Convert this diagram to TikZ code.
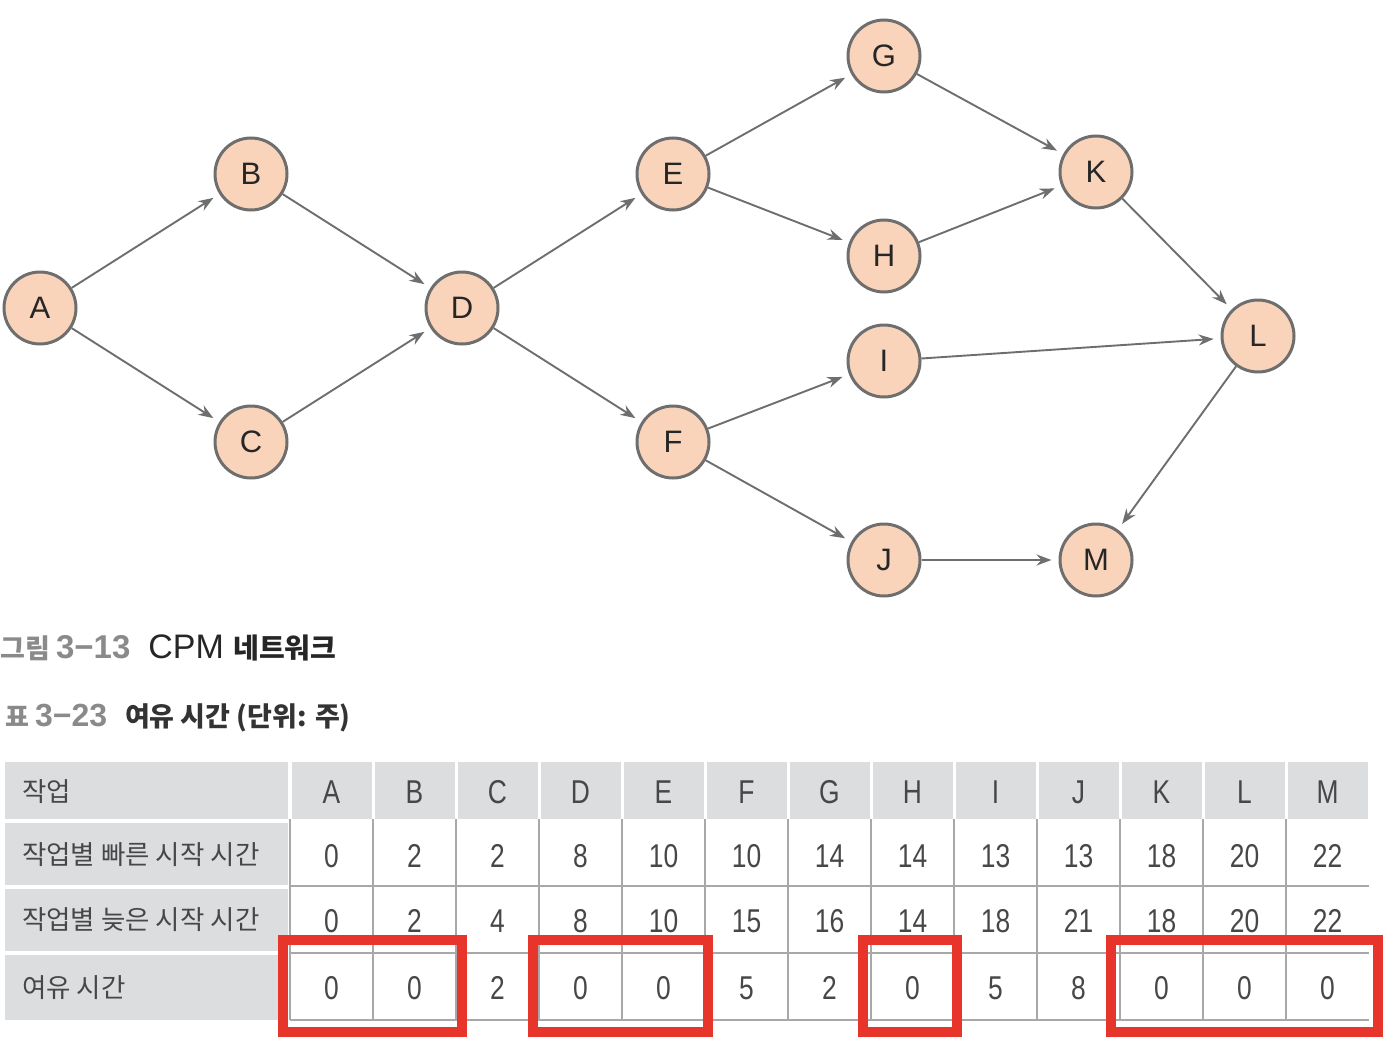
\documentclass[tikz,border=0pt]{standalone}
\usepackage{fontspec}
\setmainfont{Liberation Sans}
\newfontfamily\krfont{Noto Sans CJK KR}
\newfontfamily\numfont{Liberation Sans}[FakeStretch=0.8]
\usetikzlibrary{arrows.meta}
\definecolor{peach}{HTML}{F9D4BB}
\definecolor{ringgray}{HTML}{6E6E6E}
\definecolor{headgray}{HTML}{DCDDDF}
\definecolor{rulegray}{HTML}{A8A8A8}
\definecolor{textgray}{HTML}{474747}
\definecolor{capgray}{HTML}{8A8A8A}
\definecolor{boxred}{HTML}{E8352B}

\begin{document}
\begin{tikzpicture}
        [x=1pt,y=-1pt,every node/.style={inner sep=0pt},
         task/.style={circle,draw=ringgray,line width=3pt,fill=peach,minimum size=72pt,
           font=\fontsize{31}{31}\selectfont,text=black!85},
         link/.style={-{Stealth[length=15pt,width=11pt]},draw=ringgray,line width=1.9pt,shorten >=7pt},
         cell/.style={font=\numfont\fontsize{33}{33}\selectfont,text=textgray},
         rowlabel/.style={anchor=west,font=\krfont\fontsize{26.5}{26.5}\selectfont,text=textgray}]
        \useasboundingbox (0,0) rectangle (1396,1054);

        % network
        \node[task] (A) at (40, 308) {A};
        \node[task] (B) at (251, 174) {B};
        \node[task] (C) at (251, 442) {C};
        \node[task] (D) at (462, 308) {D};
        \node[task] (E) at (673, 174) {E};
        \node[task] (F) at (673, 442) {F};
        \node[task] (G) at (884, 56) {G};
        \node[task] (H) at (884, 256) {H};
        \node[task] (I) at (884, 361) {I};
        \node[task] (J) at (884, 560) {J};
        \node[task] (K) at (1096, 172) {K};
        \node[task] (L) at (1258, 336) {L};
        \node[task] (M) at (1096, 560) {M};

        \foreach \s/\t in {A/B,A/C,B/D,C/D,D/E,D/F,E/G,E/H,F/I,F/J,G/K,H/K,K/L,I/L,L/M,J/M}
            \draw[link] (\s) -- (\t);

        % captions
        \node[anchor=west] (fig) at (0, 648)
            {\textcolor{capgray}{\krfont\fontsize{27}{27}\selectfont\bfseries 그림
              \fontsize{33}{33}\selectfont\rmfamily\bfseries 3−13}\hspace{18pt}%
             \textcolor{black!85}{\fontsize{34}{34}\selectfont CPM
              \krfont\fontsize{28}{28}\selectfont\bfseries 네트워크}};
        \node[anchor=west] (tab) at (5, 718)
            {\textcolor{capgray}{\krfont\fontsize{26}{26}\selectfont\bfseries 표
              \fontsize{32}{32}\selectfont\rmfamily\bfseries 3−23}\hspace{18pt}%
             \textcolor{black!80}{\krfont\fontsize{27}{27}\selectfont\bfseries 여유 시간 (단위: 주)}};

        % table
        \fill[headgray] (5, 762) rectangle (288, 819);
        \fill[headgray] (5, 823) rectangle (288, 885);
        \fill[headgray] (5, 889) rectangle (288, 951);
        \fill[headgray] (5, 955) rectangle (288, 1020);
        \foreach \i in {0,...,12}
            \fill[headgray] ({291.5+83*\i}, 762) rectangle ({288.5+83*(\i+1)}, 819);
        \foreach \y in {886, 953, 1020}
            \draw[rulegray, line width=1.5pt] (290, \y) -- (1369, \y);
        \foreach \i in {0,...,12}
            \draw[rulegray, line width=1.2pt] ({290+83*\i}, 819) -- ({290+83*\i}, 1020);

        \node[rowlabel] (h0) at (22, 792) {작업};
        \node[rowlabel] (h1) at (22, 855) {작업별 빠른 시작 시간};
        \node[rowlabel] (h2) at (22, 920) {작업별 늦은 시작 시간};
        \node[rowlabel] (h3) at (22, 988) {여유 시간};

        \foreach \v [count=\i from 0] in {A,B,C,D,E,F,G,H,I,J,K,L,M}
            \node[cell] at ({331.5+83*\i}, 792) {\v};
        \foreach \v [count=\i from 0] in {0,2,2,8,10,10,14,14,13,13,18,20,22}
            \node[cell] at ({331.5+83*\i}, 856) {\v};
        \foreach \v [count=\i from 0] in {0,2,4,8,10,15,16,14,18,21,18,20,22}
            \node[cell] at ({331.5+83*\i}, 921) {\v};
        \foreach \v [count=\i from 0] in {0,0,2,0,0,5,2,0,5,8,0,0,0}
            \node[cell] at ({331.5+83*\i}, 988) {\v};

        % zero slack
        \draw[boxred, line width=10pt] (282.5, 939.5) rectangle (461.5, 1032);
        \draw[boxred, line width=10pt] (532.5, 939.5) rectangle (708, 1032);
        \draw[boxred, line width=10pt] (862.5, 939.5) rectangle (957, 1032);
        \draw[boxred, line width=10pt] (1110.5, 939.5) rectangle (1378, 1032);
    \end{tikzpicture}
\end{document}
